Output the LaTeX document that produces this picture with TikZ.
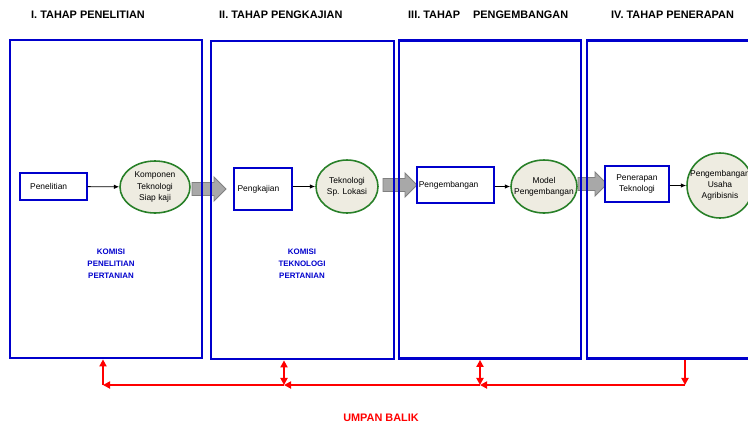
\documentclass[tikz,border=0pt]{standalone}
\usepackage{fontspec}
\setmainfont{Liberation Sans}
\usetikzlibrary{shapes.geometric,arrows.meta}
\definecolor{frameblue}{RGB}{0,0,204}
\definecolor{ringgreen}{RGB}{40,128,40}
\definecolor{ringfill}{RGB}{238,236,225}
\definecolor{arrowgrey}{RGB}{168,168,168}
% grey block arrow: left x, middle y, length
\newcommand\greyarrow[3]{%
  \filldraw[fill=arrowgrey, draw=gray, line width=0.5pt]
    ({#1},{#2-6.5}) -- ({#1+#3-12},{#2-6.5}) -- ({#1+#3-12},{#2-12})
    -- ({#1+#3},{#2}) -- ({#1+#3-12},{#2+12}) -- ({#1+#3-12},{#2+6.5})
    -- ({#1},{#2+6.5}) -- cycle;}
\begin{document}
\begin{tikzpicture}[
    x=0.02cm, y=-0.02cm,
    stage/.style={draw=frameblue, line width=1.6pt, inner sep=0pt, minimum height=6.36cm},
    stepbox/.style={draw=frameblue, line width=0.8pt, fill=white, inner sep=2pt,
      align=left, font=\fontsize{4.8}{6.4}\selectfont},
    result/.style={ellipse, draw=ringgreen, line width=0.9pt, fill=ringfill, inner sep=0pt},
    resulttext/.style={align=center, font=\fontsize{4.8}{6.4}\selectfont},
    link/.style={-{Latex[length=3pt,width=2.5pt]}, line width=0.5pt},
    feedback/.style={red, line width=1.1pt},
    fbtip/.style={-{Triangle[length=4pt,width=4pt]}},
    fbboth/.style={{Triangle[length=4pt,width=4pt]}-{Triangle[length=4pt,width=4pt]}},
    title/.style={anchor=west, font=\bfseries\fontsize{6.2}{8}\selectfont},
    komisi/.style={text=frameblue, align=center, font=\bfseries\fontsize{4.5}{6.8}\selectfont}
  ]
  \useasboundingbox (0,0) rectangle (748,427);

  % stage titles
  \node[title] (t1) at (25,15) {I. TAHAP PENELITIAN};
  \node[title] (t2) at (213,15) {II. TAHAP PENGKAJIAN};
  \node[title] (t3) at (402,15) {III. TAHAP\hspace{1.2em}PENGEMBANGAN};
  \node[title] (t4) at (605,15) {IV. TAHAP PENERAPAN};

  % block arrows between stages
  \greyarrow{192}{189}{34}
  \greyarrow{383}{185}{34}
  \greyarrow{578}{184}{29}

  % stage frames
  \node[stage, minimum width=3.84cm] (stage1) at (106,199) {};
  \node[stage, minimum width=3.66cm] (stage2) at (302.5,200) {};
  \node[stage, minimum width=3.64cm] (stage3) at (490,199.5) {};
  \node[stage, minimum width=3.3cm] (stage4) at (669.5,199.5) {};

  % steps
  \node[stepbox, inner xsep=5.7pt, text width=26.6pt, minimum height=15.3pt] (b1) at (53.5,186.5) {Penelitian};
  \node[stepbox, text width=28.9pt, minimum height=23.8pt] (b2) at (263,189) {Pengkajian};
  \node[stepbox, inner xsep=1pt, text width=41.7pt, minimum height=20.4pt] (b3) at (455.5,185) {Pengembangan};
  \node[stepbox, align=center, text width=32.3pt, minimum height=20.4pt] (b4) at (637,184) {Penerapan\\Teknologi};

  % results
  \node[result, minimum width=1.40cm, minimum height=1.04cm,
    label={[resulttext]center:Komponen\\Teknologi\\Siap kaji}] (r1) at (155,187) {};
  \node[result, minimum width=1.24cm, minimum height=1.06cm,
    label={[resulttext]center:Teknologi\\Sp. Lokasi}] (r2) at (347,186.5) {};
  \node[result, minimum width=1.32cm, minimum height=1.06cm,
    label={[resulttext]center:Model\\Pengembangan}] (r3) at (544,186.5) {};
  \node[result, minimum width=1.32cm, minimum height=1.30cm,
    label={[resulttext]center:Pengembangan\\Usaha\\Agribisnis}] (r4) at (720,185.5) {};

  \draw[link] (b1) -- (r1);
  \draw[link] (b2.east |- r2) -- (r2);
  \draw[link] (b3.east |- r3) -- (r3);
  \draw[link] (b4.east |- r4) -- (r4);

  % commissions
  \node[komisi] (k1) at (111,264) {KOMISI\\PENELITIAN\\PERTANIAN};
  \node[komisi] (k2) at (302,264) {KOMISI\\TEKNOLOGI\\PERTANIAN};

  % feedback
  \coordinate (fb1) at (103,385);
  \coordinate (fb2) at (284,385);
  \coordinate (fb3) at (480,385);
  \coordinate (fb4) at (685,385);
  \draw[feedback, fbtip] (stage4.south -| fb4) -- (fb4);
  \draw[feedback, fbtip] (fb4) -- (fb3);
  \draw[feedback, fbtip] (fb3) -- (fb2);
  \draw[feedback, fbtip] (fb2) -- (fb1);
  \draw[feedback, fbboth] (fb3) -- (stage3.south -| fb3);
  \draw[feedback, fbboth] (fb2) -- (stage2.south -| fb2);
  \draw[feedback, fbtip] (fb1) -- (stage1.south -| fb1);
  \node[text=red, font=\bfseries\fontsize{6.2}{8}\selectfont] (ub) at (381,418) {UMPAN BALIK};
\end{tikzpicture}
\end{document}
